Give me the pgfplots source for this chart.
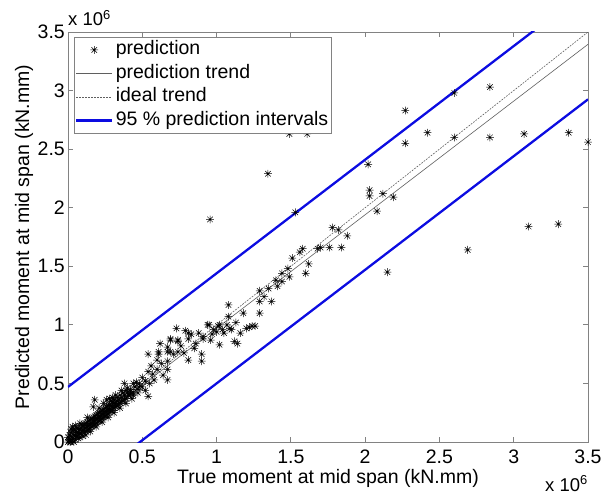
\documentclass[border=0pt]{standalone}
\usepackage{pgfplots}
\pgfplotsset{compat=1.18}
\usepackage{fontspec}
\setmainfont{Liberation Sans}
\definecolor{mblue}{RGB}{12,12,225}
\definecolor{axgray}{RGB}{130,130,130}
\definecolor{trendgray}{RGB}{95,95,95}
\pgfdeclareplotmark{mstar}{%
 \pgfpathmoveto{\pgfqpoint{-\pgfplotmarksize}{0pt}}\pgfpathlineto{\pgfqpoint{\pgfplotmarksize}{0pt}}%
 \pgfpathmoveto{\pgfqpoint{0pt}{-\pgfplotmarksize}}\pgfpathlineto{\pgfqpoint{0pt}{\pgfplotmarksize}}%
 \pgfpathmoveto{\pgfqpoint{-0.707\pgfplotmarksize}{-0.707\pgfplotmarksize}}\pgfpathlineto{\pgfqpoint{0.707\pgfplotmarksize}{0.707\pgfplotmarksize}}%
 \pgfpathmoveto{\pgfqpoint{-0.707\pgfplotmarksize}{0.707\pgfplotmarksize}}\pgfpathlineto{\pgfqpoint{0.707\pgfplotmarksize}{-0.707\pgfplotmarksize}}%
 \pgfusepathqstroke}
\pgfplotstableread{
x y
0.956 1.90
1.346 2.29
1.53 1.96
1.49 2.63
1.61 2.63
2.02 2.37
2.03 2.15
2.03 2.10
2.12 2.12
2.19 2.09
2.08 1.97
2.15 1.45
1.78 1.83
1.82 1.81
1.88 1.76
1.84 1.66
1.76 1.66
1.68 1.65
1.70 1.66
1.58 1.65
1.56 1.62
1.51 1.57
1.62 1.52
1.60 1.44
1.44 1.44
1.44 1.37
1.49 1.41
1.48 1.48
1.29 1.29
1.37 1.20
1.29 1.20
1.29 1.10
2.27 2.83
2.84 3.03
2.60 2.98
2.42 2.64
2.27 2.55
2.60 2.60
2.84 2.60
3.07 2.63
3.37 2.64
3.50 2.56
3.10 1.84
3.30 1.86
2.69 1.64
1.08 1.17
1.08 1.07
1.22 0.98
1.20 0.97
1.16 0.93
1.12 0.86
1.02 1.00
1.00 0.94
0.95 1.00
0.91 0.88
1.02 0.83
0.81 0.93
0.73 0.97
0.74 0.87
0.69 0.87
0.67 0.77
0.61 0.77
0.71 0.75
0.67 0.69
0.81 0.70
0.90 0.75
0.90 0.69
1.09 0.97
0.94 1.00
1.01 0.99
1.07 1.00
1.10 0.96
1.14 0.84
0.91 0.90
0.97 0.92
0.81 0.88
0.74 0.86
0.69 0.88
0.67 0.81
0.69 0.77
0.74 0.77
0.62 0.84
0.61 0.75
0.54 0.75
0.67 0.62
0.67 0.53
0.54 0.60
0.54 0.39
0.46 0.51
0.48 0.47
0.42 0.43
0.44 0.40
0.47 0.42
0.38 0.50
0.18 0.36
0.17 0.30
0.28 0.37
1.24 0.99
1.26 0.99
1.04 0.96
0.98 0.96
0.85 0.80
0.005 0.01
0.015 0.00
0.00 0.04
0.04 0.00
0.01 0.02
0.02 0.05
0.02 0.08
0.03 0.03
0.03 0.10
0.04 0.06
0.05 0.02
0.05 0.09
0.06 0.05
0.06 0.12
0.07 0.08
0.08 0.04
0.08 0.11
0.09 0.07
0.10 0.10
0.10 0.14
0.11 0.08
0.12 0.12
0.12 0.16
0.13 0.10
0.14 0.14
0.14 0.18
0.15 0.12
0.16 0.16
0.16 0.20
0.17 0.14
0.18 0.18
0.18 0.22
0.19 0.16
0.20 0.20
0.20 0.24
0.21 0.18
0.22 0.22
0.22 0.26
0.23 0.20
0.24 0.24
0.24 0.28
0.25 0.22
0.26 0.26
0.26 0.30
0.27 0.24
0.28 0.28
0.28 0.32
0.29 0.27
0.30 0.30
0.30 0.34
0.31 0.29
0.32 0.33
0.33 0.31
0.34 0.36
0.35 0.33
0.36 0.38
0.37 0.35
0.38 0.40
0.39 0.37
0.40 0.42
0.41 0.40
0.42 0.45
0.44 0.42
0.45 0.47
0.47 0.45
0.48 0.50
0.50 0.47
0.52 0.52
0.55 0.50
0.03 0.13
0.05 0.14
0.07 0.03
0.09 0.12
0.11 0.15
0.13 0.17
0.15 0.19
0.17 0.21
0.19 0.23
0.21 0.25
0.23 0.27
0.25 0.29
0.27 0.31
0.29 0.35
0.31 0.36
0.33 0.38
0.35 0.40
0.37 0.42
0.39 0.44
0.15 0.09
0.19 0.13
0.23 0.17
0.27 0.21
0.31 0.25
0.35 0.29
0.39 0.33
0.43 0.37
0.02 0.11
0.12 0.06
0.30 0.38
0.32 0.40
0.36 0.44
0.40 0.46
0.44 0.50
0.50 0.55
0.57 0.58
0.52 0.44
0.58 0.53
0.60 0.62
0.63 0.67
0.56 0.65
0.60 0.70
0.64 0.57
0.76 0.82
0.78 0.76
0.86 0.84
0.88 0.93
0.79 0.95
0.83 0.92
0.96 0.87
1.05 0.93
1.18 1.10
1.13 1.02
1.32 1.24
1.35 1.31
1.40 1.38
1.41 1.33
0.00 0.00
0.01 0.06
0.02 0.00
0.03 0.01
0.04 0.11
0.05 0.05
0.06 0.08
0.07 0.11
0.08 0.07
0.09 0.15
0.10 0.05
0.11 0.12
0.12 0.09
0.13 0.14
0.14 0.11
0.15 0.16
0.16 0.13
0.17 0.18
0.18 0.15
0.19 0.20
0.20 0.17
0.21 0.22
0.22 0.19
0.23 0.24
0.24 0.21
0.25 0.26
0.26 0.23
0.27 0.28
0.28 0.25
0.29 0.31
0.30 0.27
0.31 0.33
0.32 0.30
0.33 0.35
0.34 0.32
0.36 0.35
0.38 0.36
0.40 0.39
0.42 0.41
0.21 0.29
0.24 0.33
0.26 0.36
0.13 0.21
0.08 0.16
}\datatable
\begin{document}
\begin{tikzpicture}
\useasboundingbox (-68bp,-54bp) rectangle (547bp,442bp);
\begin{axis}[
 scale only axis, width=520bp, height=410bp,
 xmin=0, xmax=3.5, ymin=0, ymax=3.5,
 xtick={0,0.5,1,1.5,2,2.5,3,3.5},
 ytick={0,0.5,1,1.5,2,2.5,3,3.5},
 xticklabels={0,0.5,1,1.5,2,2.5,3,3.5},
 yticklabels={0,0.5,1,1.5,2,2.5,3,3.5},
 tick align=inside, major tick length=5bp,
 xtick pos=both, ytick pos=both,
 axis line style={axgray, line width=0.8bp},
 every tick/.style={axgray, line width=0.8bp},
 tick label style={font=\fontsize{19.5bp}{23bp}\selectfont, text=black, inner sep=0pt},
 /pgf/number format/assume math mode=true,
 xticklabel style={anchor=base, yshift=-21bp},
 yticklabel style={anchor=east, xshift=-3bp},
 label style={font=\fontsize{19.5bp}{23bp}\selectfont},
 xlabel={True moment at mid span (kN.mm)},
 ylabel={Predicted moment at mid span (kN.mm)},
 xlabel style={at={(axis description cs:0.5,-0.1024)}, anchor=base, inner sep=0pt},
 ylabel style={at={(axis description cs:-0.075,0.5)}, anchor=base, inner sep=0pt},
 legend cell align=left,
 legend style={at={(rel axis cs:0.0115,0.988)}, anchor=north west, draw=axgray, line width=0.6bp,
   font=\fontsize{19.5bp}{23bp}\selectfont, inner sep=1bp, row sep=0bp,
   nodes={inner sep=2.5bp, text height=14bp, text depth=4.5bp}},
 legend image code/.code={\draw[mark repeat=2,mark phase=2,#1] plot coordinates {(0cm,0cm) (0.63cm,0cm) (1.26cm,0cm)};},
 clip=true,
]
\addplot[only marks, mark=mstar, mark size=3.9bp, black, line width=0.5bp] table[x=x,y=y] {\datatable};
\addlegendentry{prediction}
\addplot[trendgray, line width=0.6bp, no marks] coordinates {(0,0) (3.5,3.395)};
\addlegendentry{prediction trend}
\addplot[trendgray, line width=0.6bp, dash pattern=on 1.8bp off 1.2bp, no marks] coordinates {(0,0) (3.5,3.5)};
\addlegendentry{ideal trend}
\addplot[mblue, line width=2.3bp, no marks] coordinates {(0,0.47) (3.5,3.865)};
\addlegendentry{95 \% prediction intervals}
\addplot[mblue, line width=2.3bp, no marks, forget plot] coordinates {(0,-0.47) (3.5,2.925)};
\coordinate (tl) at (rel axis cs:0,1);
\coordinate (br) at (rel axis cs:1,0);
\end{axis}
\node[anchor=base west, inner sep=0, font=\fontsize{18.5bp}{22bp}\selectfont] at ([yshift=6bp]tl) {x 10\textsuperscript{6}};
\node[anchor=base east, inner sep=0, font=\fontsize{18.5bp}{22bp}\selectfont] at ([yshift=-49bp]br) {x 10\textsuperscript{6}};
\end{tikzpicture}
\end{document}
